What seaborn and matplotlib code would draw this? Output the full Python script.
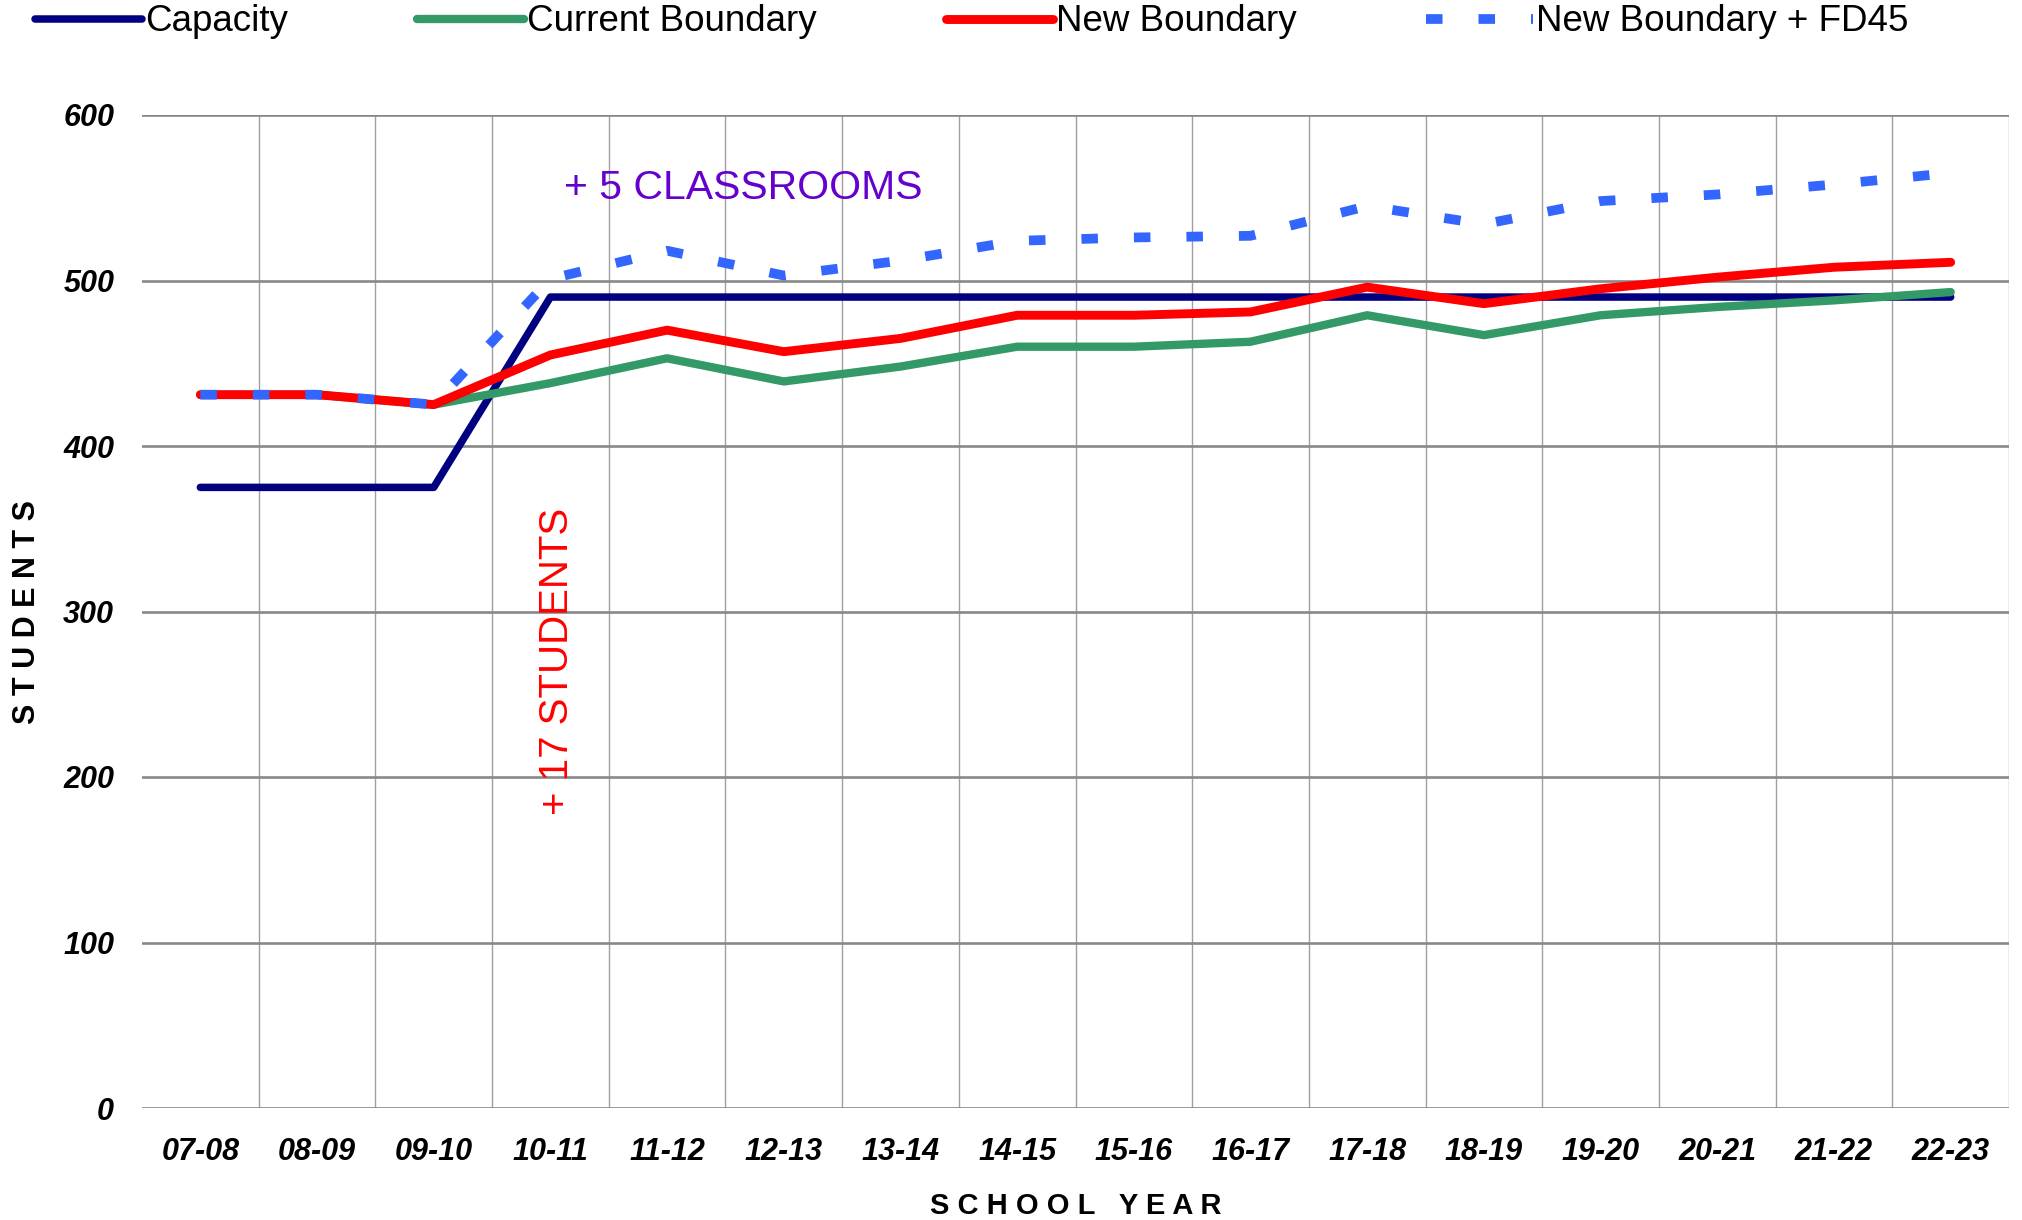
import numpy as np
import pandas as pd
import matplotlib
matplotlib.use("Agg")
import matplotlib.pyplot as plt
import seaborn as sns

years = ["07-08", "08-09", "09-10", "10-11", "11-12", "12-13", "13-14", "14-15",
         "15-16", "16-17", "17-18", "18-19", "19-20", "20-21", "21-22", "22-23"]
capacity = [375, 375, 375, 490, 490, 490, 490, 490, 490, 490, 490, 490, 490, 490, 490, 490]
current_boundary = [431, 431, 425, 438, 453, 439, 448, 460, 460, 463, 479, 467, 479, 484, 488, 493]
new_boundary = [431, 431, 425, 455, 470, 457, 465, 479, 479, 481, 496, 486, 495, 502, 508, 511]
new_boundary_fd45 = [431, 431, 425, 501, 518, 503, 512, 524, 526, 527, 545, 534, 548, 552, 558, 565]
series_names = ["Capacity", "Current Boundary", "New Boundary", "New Boundary + FD45"]
y_ticks = [0, 100, 200, 300, 400, 500, 600]

sns.set_theme(style="white")
plt.rcParams["font.family"] = ["Liberation Sans", "DejaVu Sans"]
plt.rcParams["text.color"] = "black"
plt.rcParams["xtick.color"] = "black"
plt.rcParams["ytick.color"] = "black"
plt.rcParams["axes.labelcolor"] = "black"

pos = np.arange(len(years))
df = pd.DataFrame({
    "pos": np.tile(pos, 4),
    "students": capacity + current_boundary + new_boundary + new_boundary_fd45,
    "series": np.repeat(series_names, len(years)),
})

fig = plt.figure(figsize=(20.22, 12.2), dpi=100)
ax = fig.add_axes([142 / 2022, 1 - 1108 / 1220, (2009 - 142) / 2022, (1108 - 115) / 1220])

styles = {
    "Capacity": dict(color="#000080", lw=5.4),
    "Current Boundary": dict(color="#339966", lw=6.0),
    "New Boundary": dict(color="#FF0000", lw=6.4),
    "New Boundary + FD45": dict(color="#3366FF", lw=7.0),
}
for name in series_names:
    sub = df[df["series"] == name]
    st = styles[name]
    sns.lineplot(data=sub, x="pos", y="students", ax=ax, color=st["color"],
                 linewidth=st["lw"], label=name, zorder=3 if name != "New Boundary + FD45" else 4)

lines = ax.get_lines()
for ln in lines:
    ln.set_solid_capstyle("round")
    ln.set_solid_joinstyle("round")
fd = lines[3]
fd.set_dashes((1.7, 3.7))
fd.set_dash_capstyle("butt")

ax.set_xlim(-0.5, len(years) - 0.5)
ax.set_ylim(0, 600)
ax.set_yticks(y_ticks)
ax.set_yticklabels([str(v) for v in y_ticks], fontsize=22, fontweight="bold", fontstyle="italic")
ax.set_xticks(pos)
ax.set_xticklabels(years, fontsize=22, fontweight="bold", fontstyle="italic")
ax.set_xticks(np.arange(-0.5, len(years), 1), minor=True)
ax.tick_params(axis="x", which="major", length=0, pad=21)
ax.tick_params(axis="x", which="minor", length=9, width=1, color="#808080", direction="out")
ax.tick_params(axis="y", which="major", length=0, pad=20)

ax.grid(which="major", axis="y", color="#888888", lw=1.9, zorder=1)
ax.grid(which="minor", axis="x", color="#A0A0A0", lw=1.0, zorder=1)
ax.grid(which="major", axis="x", visible=False)
ax.xaxis.get_minor_ticks()[0].gridline.set_visible(False)
for s in ax.spines.values():
    s.set_visible(False)
ax.set_axisbelow(True)

ax.set_xlabel("S C H O O L   Y E A R", fontsize=21, fontweight="bold", labelpad=18)
ax.set_ylabel("S T U D E N T S", fontsize=22, fontweight="bold", labelpad=15)

ax.text(3.12, 556, "+ 5 CLASSROOMS", color="#6600CC", fontsize=29.5, ha="left", va="center")
ax.text(3.06, 270, "+ 17 STUDENTS", color="#FF0000", fontsize=29, rotation=90,
        ha="center", va="center")

handles, labels = ax.get_legend_handles_labels()
ax.get_legend().remove()
fig.legend(handles, labels, loc="center left", bbox_to_anchor=(0.010, 0.982), ncol=4,
           frameon=False, fontsize=26.5, handlelength=2.9, handletextpad=0.1,
           columnspacing=3.5, borderaxespad=0)

fig.savefig("out.png", dpi=100)
